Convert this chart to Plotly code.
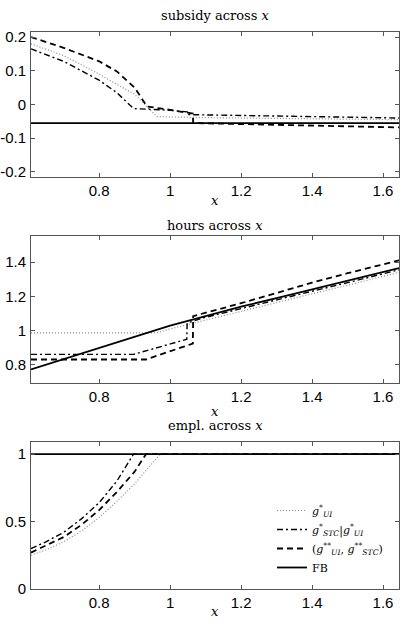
import plotly.graph_objects as go

# ---------------- data ----------------
# subsidy across x
sub_ui_x = [0.608, 0.70, 0.75, 0.80, 0.90, 0.963, 1.10, 1.30, 1.50, 1.645]
sub_ui_y = [0.180, 0.145, 0.118, 0.090, 0.030, -0.036, -0.039, -0.041, -0.043, -0.045]
sub_stc_x = [0.608, 0.70, 0.75, 0.80, 0.85, 0.897, 1.00, 1.048, 1.049, 1.20, 1.40, 1.645]
sub_stc_y = [0.165, 0.128, 0.100, 0.072, 0.035, -0.012, -0.017, -0.022, -0.030, -0.033, -0.037, -0.040]
sub_joint_x = [0.608, 0.70, 0.80, 0.85, 0.90, 0.935, 1.00, 1.064, 1.065, 1.20, 1.40, 1.645]
sub_joint_y = [0.200, 0.168, 0.128, 0.098, 0.050, -0.006, -0.016, -0.027, -0.055, -0.058, -0.062, -0.068]
sub_fb_x = [0.608, 1.645]
sub_fb_y = [-0.055, -0.055]

# hours across x
hrs_ui_x = [0.608, 0.96, 1.00, 1.10, 1.20, 1.30, 1.40, 1.50, 1.645]
hrs_ui_y = [0.987, 0.987, 1.010, 1.062, 1.113, 1.165, 1.215, 1.265, 1.340]
hrs_stc_x = [0.608, 0.897, 1.047, 1.048, 1.10, 1.20, 1.30, 1.40, 1.50, 1.645]
hrs_stc_y = [0.862, 0.862, 0.950, 1.045, 1.078, 1.130, 1.180, 1.230, 1.280, 1.355]
hrs_joint_x = [0.608, 0.932, 1.064, 1.065, 1.20, 1.30, 1.40, 1.50, 1.645]
hrs_joint_y = [0.832, 0.832, 0.925, 1.085, 1.160, 1.220, 1.280, 1.335, 1.410]
hrs_fb_x = [0.608, 0.70, 0.80, 0.90, 1.00, 1.10, 1.20, 1.30, 1.40, 1.50, 1.645]
hrs_fb_y = [0.774, 0.835, 0.900, 0.965, 1.030, 1.085, 1.140, 1.190, 1.240, 1.290, 1.365]

# employment across x
emp_ui_x = [0.608, 0.65, 0.70, 0.75, 0.80, 0.85, 0.90, 0.95, 0.972, 1.645]
emp_ui_y = [0.250, 0.290, 0.350, 0.430, 0.530, 0.650, 0.780, 0.930, 1.000, 1.000]
emp_stc_x = [0.608, 0.65, 0.70, 0.75, 0.80, 0.85, 0.897, 1.645]
emp_stc_y = [0.300, 0.350, 0.420, 0.520, 0.640, 0.800, 1.000, 1.000]
emp_joint_x = [0.608, 0.65, 0.70, 0.75, 0.80, 0.85, 0.90, 0.932, 1.645]
emp_joint_y = [0.270, 0.320, 0.385, 0.475, 0.585, 0.720, 0.870, 1.000, 1.000]
emp_fb_x = [0.608, 1.645]
emp_fb_y = [1.0, 1.0]

series_names = [
    "<i>g</i><sup>*</sup><sub><i>UI</i></sub>",
    "<i>g</i><sup>*</sup><sub><i>STC</i></sub>|<i>g</i><sup>*</sup><sub><i>UI</i></sub>",
    "(<i>g</i><sup>**</sup><sub><i>UI</i></sub>, <i>g</i><sup>**</sup><sub><i>STC</i></sub>)",
    "FB",
]

x_ticks = [0.8, 1.0, 1.2, 1.4, 1.6]
x_ticktext = ["0.8", "1", "1.2", "1.4", "1.6"]
sub_ticks = [-0.2, -0.1, 0.0, 0.1, 0.2]
sub_ticktext = ["-0.2", "-0.1", "0", "0.1", "0.2"]
hrs_ticks = [0.8, 1.0, 1.2, 1.4]
hrs_ticktext = ["0.8", "1", "1.2", "1.4"]
emp_ticks = [0.0, 0.5, 1.0]
emp_ticktext = ["0", "0.5", "1"]

titles = ["subsidy across <i>x</i>", "hours across <i>x</i>", "empl. across <i>x</i>"]

# ---------------- styles ----------------
styles = [
    dict(color="#8a8a8a", width=1.2, dash="1px,2px"),
    dict(color="black", width=1.4, dash="6px,3px,2px,3px"),
    dict(color="black", width=1.8, dash="6px,4px"),
    dict(color="black", width=1.8, dash="solid"),
]

W, H = 403, 625
ML, MR, MT, MB = 31, 4, 32, 36
ph = H - MT - MB
def fy(px):
    return (H - MB - px) / ph

domains = [(fy(177), fy(32)), (fy(383), fy(236)), (fy(589), fy(442))]

fig = go.Figure()

panels = [
    ([(sub_ui_x, sub_ui_y), (sub_stc_x, sub_stc_y), (sub_joint_x, sub_joint_y), (sub_fb_x, sub_fb_y)],
     [-0.215, 0.215], sub_ticks, sub_ticktext),
    ([(hrs_ui_x, hrs_ui_y), (hrs_stc_x, hrs_stc_y), (hrs_joint_x, hrs_joint_y), (hrs_fb_x, hrs_fb_y)],
     [0.695, 1.552], hrs_ticks, hrs_ticktext),
    ([(emp_ui_x, emp_ui_y), (emp_stc_x, emp_stc_y), (emp_joint_x, emp_joint_y), (emp_fb_x, emp_fb_y)],
     [0.0, 1.09], emp_ticks, emp_ticktext),
]

axis_common = dict(showgrid=False, zeroline=False, showline=True, linecolor="#555555",
                   linewidth=1, mirror="ticks", ticks="inside", ticklen=4,
                   tickcolor="#555555", automargin=False,
                   tickfont=dict(family="Liberation Sans", size=15, color="black"))

for i, (series, yr, yt, ytt) in enumerate(panels):
    n = i + 1
    xa = "x" if n == 1 else f"x{n}"
    ya = "y" if n == 1 else f"y{n}"
    for k, (xs, ys) in enumerate(series):
        fig.add_trace(go.Scatter(x=xs, y=ys, mode="lines", line=styles[k],
                                 name=series_names[k], xaxis=xa, yaxis=ya,
                                 showlegend=(n == 3), hoverinfo="skip"))
    xkey = "xaxis" if n == 1 else f"xaxis{n}"
    ykey = "yaxis" if n == 1 else f"yaxis{n}"
    fig.update_layout(**{
        xkey: dict(axis_common, domain=[0, 1], range=[0.608, 1.645], anchor=ya,
                   tickvals=x_ticks, ticktext=x_ticktext),
        ykey: dict(axis_common, domain=list(domains[i]), range=yr, anchor=xa,
                   tickvals=yt, ticktext=ytt, ticklabelstandoff=1),
    })

ann = []
title_px = [15, 225, 425]
xlab_px = [200, 411, 611]
for i in range(3):
    ann.append(dict(text=titles[i], x=0.5, y=fy(title_px[i]), xref="paper", yref="paper",
                    showarrow=False, font=dict(family="DejaVu Serif", size=13, color="black"),
                    xanchor="center", yanchor="middle"))
    ann.append(dict(text="<i>x</i>", x=0.5, y=fy(xlab_px[i]), xref="paper", yref="paper",
                    showarrow=False, font=dict(family="DejaVu Serif", size=13, color="black"),
                    xanchor="center", yanchor="middle"))

fig.update_layout(
    width=W, height=H,
    margin=dict(l=ML, r=MR, t=MT, b=MB),
    paper_bgcolor="white", plot_bgcolor="white",
    annotations=ann,
    showlegend=True,
    legend=dict(x=(272 - ML) / (W - ML - MR), y=fy(496), xanchor="left", yanchor="top",
                bgcolor="rgba(0,0,0,0)", font=dict(family="DejaVu Serif", size=11, color="black"),
                itemwidth=30, tracegroupgap=0),
)

fig.write_html("out.html")
